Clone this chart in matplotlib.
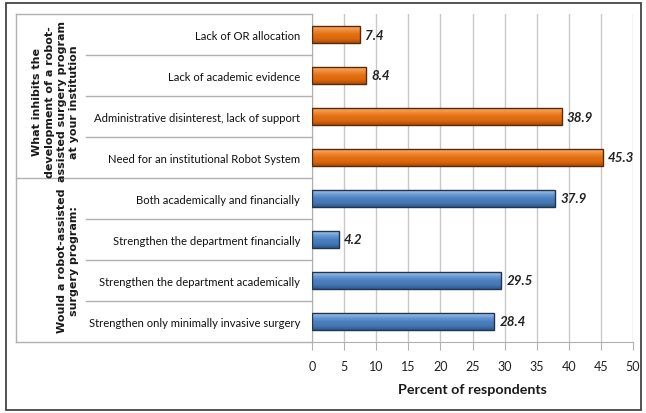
import numpy as np
import matplotlib
matplotlib.use("Agg")
import matplotlib.pyplot as plt
from matplotlib.patches import Rectangle
from matplotlib.colors import LinearSegmentedColormap

groups = ["What inhibits the\ndevelopment of a robot-\nassisted surgery program\nat your institution",
          "Would a robot-assisted\nsurgery program:"]
group_sizes = [4, 4]
categories = ["Lack of OR allocation",
              "Lack of academic evidence",
              "Administrative disinterest, lack of support",
              "Need for an institutional Robot System",
              "Both academically and financially",
              "Strengthen the department financially",
              "Strengthen the department academically",
              "Strengthen only minimally invasive surgery"]
values = [7.4, 8.4, 38.9, 45.3, 37.9, 4.2, 29.5, 28.4]
xticks = [0, 5, 10, 15, 20, 25, 30, 35, 40, 45, 50]

narrow = ["Lato", "DejaVu Sans"]

fig = plt.figure(figsize=(6.46, 4.14), dpi=100)
ax = fig.add_axes([312 / 646, 1 - 343 / 414, 321 / 646, 328 / 414])

# outer frame
fig.patches.append(Rectangle((6 / 646, 3 / 414), 635 / 646, 407 / 414, transform=fig.transFigure,
                             fill=False, edgecolor="#444444", linewidth=1.3))

# bevel-like gradients, top row first
orange = LinearSegmentedColormap.from_list("o", ["#f7b27a", "#f08a33", "#e46f12", "#dc680c", "#a94c0c"])
blue = LinearSegmentedColormap.from_list("b", ["#a9c8ea", "#6a9bd3", "#4a7fbf", "#4678b5", "#2c5a8c"])
grad = np.linspace(0, 1, 64).reshape(-1, 1)

ypos = np.arange(len(categories))
for i, (y, v) in enumerate(zip(ypos, values)):
    cmap = orange if i < group_sizes[0] else blue
    edge = "#5a2a08" if i < group_sizes[0] else "#1f3550"
    bar = ax.barh(y, v, height=0.4, color="none", edgecolor=edge, linewidth=1.0, zorder=3)[0]
    im = ax.imshow(grad, cmap=cmap, aspect="auto", extent=[0, v, y + 0.2, y - 0.2],
                   origin="upper", zorder=2)
    im.set_clip_path(bar)
    ax.text(v + 0.8, y, f"{v}", va="center", ha="left", fontsize=9.6,
            fontweight="bold", fontstyle="italic", color="#222222", family=narrow)

ax.set_xlim(0, 50)
ax.set_ylim(len(categories) - 0.5, -0.5)
ax.set_xticks(xticks)
ax.set_xticklabels([str(t) for t in xticks], fontsize=9, family=narrow, color="#222222")
ax.set_yticks(ypos)
ax.set_yticklabels(categories, fontsize=8.1, family=narrow, color="#111111")
ax.tick_params(axis="y", length=0, pad=8.5)
ax.tick_params(axis="x", length=6, color="#b0b0b0", pad=7)
ax.grid(axis="x", color="#c8c8c8", linewidth=1.0, zorder=0)
ax.set_axisbelow(True)
for s in ["top", "right"]:
    ax.spines[s].set_visible(False)
for s in ["left", "bottom"]:
    ax.spines[s].set_color("#b0b0b0")
ax.set_xlabel("Percent of respondents", fontsize=10.3, fontweight="bold", family=narrow,
              color="#1a1a1a", labelpad=8)

# category table lines on the left
x_inner = (86 - 312) / 321
x_outer = (16 - 312) / 321
bounds = [-0.5]
for n in group_sizes:
    bounds.append(bounds[-1] + n)
for b in np.arange(-0.5, len(categories)):
    xs = x_outer if b in bounds else x_inner
    ax.plot([xs, 0], [b, b], transform=ax.get_yaxis_transform(), color="#b0b0b0",
            linewidth=1.0, clip_on=False)
ax.plot([x_outer, x_outer], [bounds[0], bounds[-1]], transform=ax.get_yaxis_transform(),
        color="#b0b0b0", linewidth=1.0, clip_on=False)

shift = [0.12, 0.0]
for g, lo, hi, dy in zip(groups, bounds[:-1], bounds[1:], shift):
    ax.text((79 - 312) / 321, (lo + hi) / 2 + dy, g, transform=ax.get_yaxis_transform(),
            rotation=90, ha="right", va="center", multialignment="center",
            fontsize=8.0, fontweight="bold", color="#1a1a1a", linespacing=1.28)

fig.savefig("out.png", dpi=100)
